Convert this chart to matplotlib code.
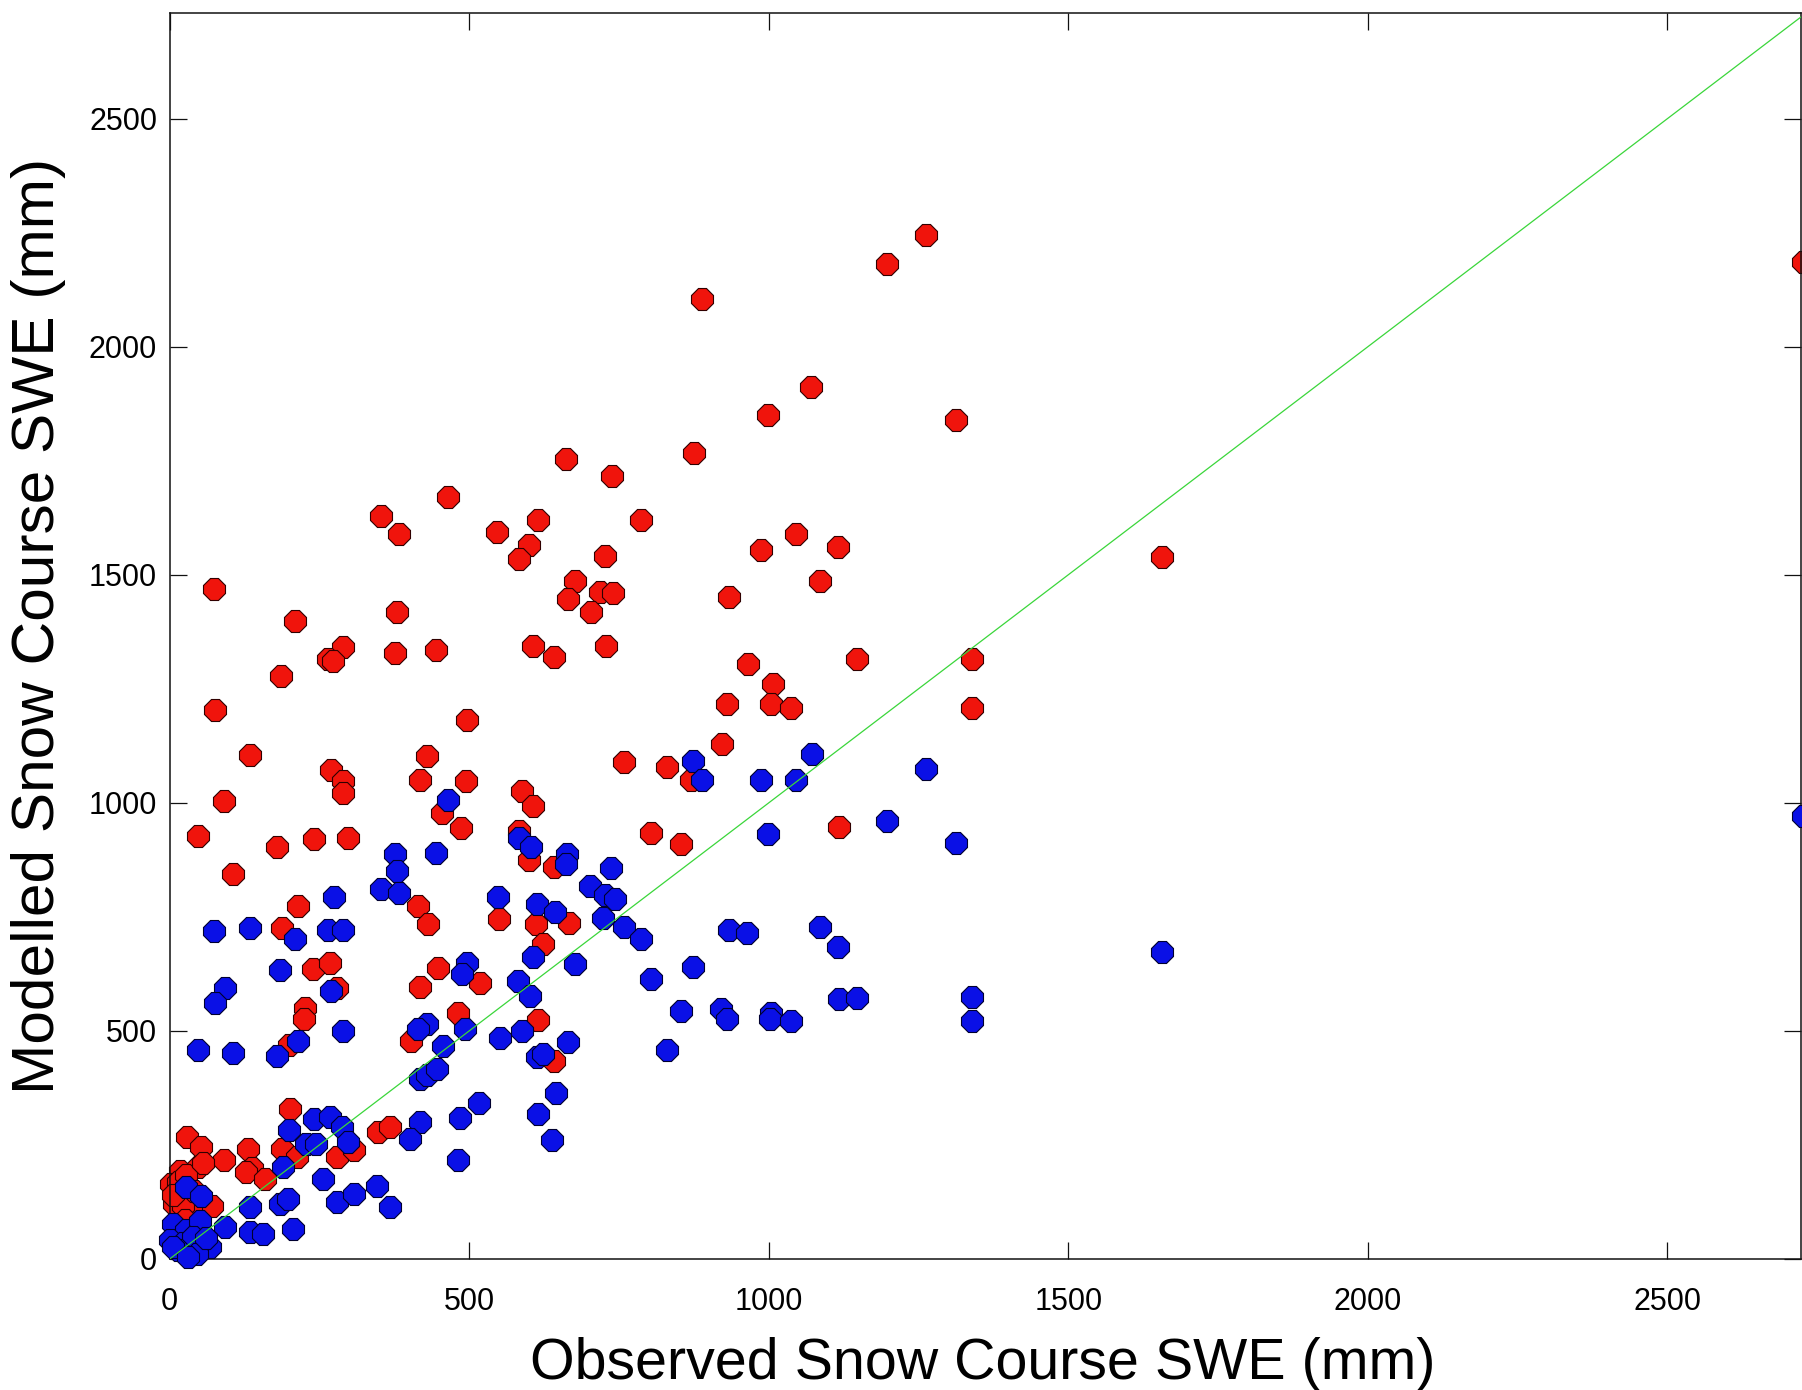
import matplotlib
matplotlib.use("Agg")
import matplotlib.pyplot as plt

# Observed vs modelled snow course SWE (mm)
red_obs = [1263, 1198, 889, 1071, 998, 1313, 875, 662, 738, 465, 353, 383, 547, 615, 600, 583,
           726, 786, 987, 1045, 1116, 1085, 677, 74, 1657, 2727,
           209, 380, 289, 265, 273, 377, 445, 186, 665, 719, 740, 703, 607, 642, 729, 934, 1148,
           1339, 1339, 965, 1007, 931, 1003, 1037, 922, 76, 497, 135, 270, 290, 289, 430, 418,
           495, 588, 607, 758, 831, 870, 91, 47, 180, 241, 297, 455, 486, 583, 600, 641, 803,
           854, 1118, 106, 215, 415, 432, 549, 612, 666, 188, 624,
           240, 268, 279, 226, 225, 200, 418, 448, 518, 403, 482, 615, 641, 201, 29, 53, 91, 47,
           17, 3, 131, 137, 128, 159, 187, 279, 307, 348, 368, 212, 70, 8, 36, 22, 14, 28, 55,
           5, 12, 25, 40]
red_mod = [2245, 2181, 2105, 1911, 1851, 1840, 1768, 1753, 1716, 1670, 1630, 1590, 1594, 1621,
           1565, 1534, 1542, 1621, 1554, 1590, 1562, 1486, 1486, 1469, 1539, 2186,
           1399, 1419, 1341, 1316, 1310, 1328, 1336, 1279, 1447, 1463, 1460, 1419, 1344, 1319,
           1344, 1451, 1316, 1316, 1209, 1304, 1260, 1217, 1217, 1209, 1129, 1204, 1181, 1106,
           1073, 1047, 1022, 1102, 1051, 1047, 1027, 994, 1089, 1078, 1051, 1004, 927, 903,
           920, 923, 978, 944, 938, 874, 859, 934, 909, 947, 845, 774, 774, 734, 745, 734, 737,
           725, 690,
           635, 650, 595, 551, 526, 470, 597, 637, 606, 479, 540, 524, 435, 329, 267, 245, 216,
           201, 194, 165, 241, 200, 190, 176, 241, 223, 238, 278, 289, 223, 117, 120, 108, 116,
           168, 185, 210, 140, 60, 85, 150]

blue_obs = [1657, 2727, 1072, 874, 889, 987, 1045, 1263, 1198, 998, 1313, 464, 377, 380, 445,
            353, 383, 274, 583, 603, 664, 662, 736, 702, 727, 744, 548, 614, 643, 724, 758, 786,
            74, 135, 209, 265, 289, 934, 964, 1085, 1116, 804, 874, 854, 921, 930, 1004, 1002,
            1037, 1118, 1148, 1339, 1339, 831,
            185, 92, 75, 270, 289, 47, 106, 179, 215, 497, 488, 606, 582, 601, 677, 429, 415,
            493, 456, 551, 588, 665, 613, 624, 418, 429, 446, 645, 615, 639, 517, 485, 482, 418,
            402, 241, 268, 287, 298, 200, 228, 245, 190, 256, 279, 307, 347, 368, 134, 184, 198,
            206, 134, 156, 92, 67, 28, 53,
            5, 28, 50, 0, 22, 39, 14, 5, 45, 30, 60]
blue_mod = [674, 971, 1107, 1091, 1051, 1051, 1051, 1074, 960, 931, 911, 1007, 887, 850, 891,
            812, 803, 794, 923, 903, 887, 865, 858, 818, 799, 790, 794, 778, 761, 748, 728, 701,
            720, 725, 701, 722, 722, 722, 714, 727, 685, 613, 641, 543, 548, 526, 540, 526,
            522, 571, 573, 575, 522, 459,
            633, 595, 562, 588, 500, 458, 451, 446, 478, 650, 624, 661, 610, 577, 646, 515, 504,
            504, 468, 484, 500, 475, 442, 449, 395, 404, 416, 365, 318, 261, 341, 309, 217, 300,
            263, 307, 311, 289, 256, 283, 252, 252, 201, 176, 125, 143, 161, 114, 114, 121, 132,
            66, 59, 55, 70, 26, 158, 139,
            77, 64, 84, 41, 34, 48, 19, 26, 10, 5, 45]

x_ticks = [0, 500, 1000, 1500, 2000, 2500]
y_ticks = [0, 500, 1000, 1500, 2000, 2500]
x_label = "Observed Snow Course SWE (mm)"
y_label = "Modelled Snow Course SWE (mm)"

W, H = 1802, 1390
fig = plt.figure(figsize=(W / 100, H / 100), dpi=100)
plt.rcParams['font.family'] = ['Liberation Sans', 'DejaVu Sans']

left, right, bottom, top = 169.6, 1801.0, 1259.0, 13.3
ax = fig.add_axes([left / W, 1 - bottom / H, (right - left) / W, (bottom - top) / H])

ms = 16.6
ax.plot(red_obs, red_mod, linestyle='none', marker='8', markersize=ms,
        markerfacecolor='#f0140c', markeredgecolor='#300000', markeredgewidth=0.8,
        clip_on=False, zorder=2)
ax.plot(blue_obs, blue_mod, linestyle='none', marker='8', markersize=ms,
        markerfacecolor='#0a10e6', markeredgecolor='#000030', markeredgewidth=0.8,
        clip_on=False, zorder=3)
ax.plot([0, 2800], [0, 2800], color='#3ad63a', linewidth=0.9, zorder=4)

ax.set_xlim(0, 2723)
ax.set_ylim(0, 2731)
ax.set_xticks(x_ticks)
ax.set_yticks(y_ticks)
ax.set_xticklabels([str(v) for v in x_ticks])
ax.set_yticklabels([str(v) for v in y_ticks])
ax.tick_params(axis='both', which='major', direction='in', length=12.5, width=0.9,
               labelsize=22, top=True, right=True, color='#111111')
ax.tick_params(axis='x', pad=20)
ax.tick_params(axis='y', pad=9)
for sp in ax.spines.values():
    sp.set_linewidth(1.1)
    sp.set_color('#111111')

fig.text(982.6 / W, 1 - 1379 / H, x_label, fontsize=41.3, ha='center', va='baseline')
fig.text(39 / W, 1 - 626 / H, y_label, fontsize=43.5, ha='center', va='center', rotation=90)

fig.savefig("out.png", dpi=100, facecolor='white')
